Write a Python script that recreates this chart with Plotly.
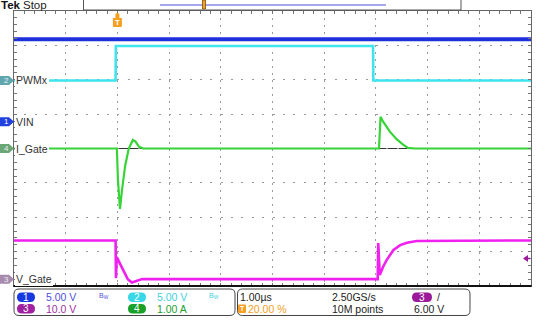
import plotly.graph_objects as go

# ---------------- data (read from the screen shot) ----------------
# time axis: 1.00 us/div, 10 div, trigger at 20 %
T_RANGE = [-2.0, 8.0]
# channels: name, scale (units/div), offset (div)
CH_NAMES = ["VIN", "PWMx", "V_Gate", "I_Gate"]
CH_NUM = ["1", "2", "3", "4"]
CH_SCALE = [5.0, 5.0, 10.0, 1.0]
CH_OFFSET = [0.78, 1.98, -3.80, 0.0]
CH_SCALE_TXT = ["5.00 V", "5.00 V", "10.0 V", "1.00 A"]

vin_t = [-2.0, 8.0]
vin_v = [12.0, 12.0]

pwm_t = [-2.0, -0.035, -0.03, 4.945, 4.95, 8.0]
pwm_v = [0.0, 0.0, 5.0, 5.0, 0.0, 0.0]

vgate_t = [-2.0, -0.035, -0.028, -0.012, 0.05, 0.13, 0.20, 0.28, 0.38, 0.48,
           5.035, 5.045, 5.075, 5.14, 5.21, 5.34, 5.47, 5.60, 5.79, 8.0]
vgate_v = [11.25, 11.25, 0.3, 6.4, 4.5, 2.2, 0.0, -1.0, -0.5, 0.0,
           0.0, 10.5, 1.2, 3.6, 5.6, 8.5, 9.9, 10.6, 11.1, 11.25]

igate_t = [-2.0, -0.01, 0.01, 0.05, 0.09, 0.15, 0.22, 0.27, 0.30, 0.35, 0.42, 0.50,
           5.06, 5.09, 5.14, 5.27, 5.40, 5.52, 5.62, 5.75, 8.0]
igate_v = [0.0, 0.0, -0.9, -1.76, -1.2, -0.5, 0.0, 0.18, 0.25, 0.2, 0.05, 0.0,
           0.0, 0.92, 0.78, 0.49, 0.27, 0.12, 0.02, 0.0, 0.0]

TIMEBASE = "1.00µs"
TRIG_POS = "20.00 %"
SAMPLE_RATE = "2.50GS/s"
RECORD = "10M points"
TRIG_LEVEL = 6.0
TRIG_LEVEL_TXT = "6.00 V"

# ---------------- styling ----------------
TRACE_COL = {"1": "#1e30dc", "2": "#3ee4ee", "3": "#f020f0", "4": "#36d436"}
PILL_COL = {"1": "#1838e0", "2": "#38d8e8", "3": "#a020a0", "4": "#18a028"}
TXT_COL = {"1": "#5050dc", "2": "#40d0e0", "3": "#a030a0", "4": "#20a030"}
SIDE_COL = {"1": "#2040e0", "2": "#5fa6ae", "3": "#a78aae", "4": "#6aa676"}
ORANGE = "#f5a020"
FONT = "Liberation Sans"
GRID = "#9a9a9a"
TICK = "#777777"

W, H = 551, 330
L, R, T, B = 14, 531, 11, 286
PW, PH = R - L, B - T


def px(x):
    return (x - L) / PW


def py(y):
    return (B - y) / PH


def rrect(x0, y0, x1, y1, r):
    def P(x, y):
        return f"{px(x):.5f},{py(y):.5f}"
    return " ".join([
        f"M {P(x0 + r, y0)}", f"L {P(x1 - r, y0)}", f"Q {P(x1, y0)} {P(x1, y0 + r)}",
        f"L {P(x1, y1 - r)}", f"Q {P(x1, y1)} {P(x1 - r, y1)}", f"L {P(x0 + r, y1)}",
        f"Q {P(x0, y1)} {P(x0, y1 - r)}", f"L {P(x0, y0 + r)}", f"Q {P(x0, y0)} {P(x0 + r, y0)} Z"])


fig = go.Figure()

axis_of = {"1": "y2", "2": "y3", "3": "y4", "4": "y5"}
series = [("1", vin_t, vin_v, 4), ("2", pwm_t, pwm_v, 2.6),
          ("4", igate_t, igate_v, 2.2), ("3", vgate_t, vgate_v, 2.6)]
for ch, t, v, w in series:
    fig.add_trace(go.Scatter(x=t, y=v, mode="lines", yaxis=axis_of[ch],
                             line=dict(color=TRACE_COL[ch], width=w),
                             showlegend=False, hoverinfo="skip"))

layout = dict(
    width=W, height=H, margin=dict(l=L, r=W - R, t=T, b=H - B),
    paper_bgcolor="white", plot_bgcolor="white", showlegend=False,
    xaxis=dict(range=T_RANGE, dtick=1, tick0=0, showgrid=True, gridcolor=GRID,
               griddash="2px,4.9px", gridwidth=1, zeroline=False,
               showticklabels=False, ticks="inside", ticklen=3, tickcolor=TICK,
               minor=dict(dtick=0.2, ticks="inside", ticklen=3, tickcolor=TICK, showgrid=False),
               showline=True, linecolor="#666", linewidth=1, mirror="allticks", fixedrange=True),
    yaxis=dict(range=[-4, 4], dtick=1, tick0=0, showgrid=True, gridcolor=GRID,
               griddash="2px,8.34px", gridwidth=1, zeroline=False,
               showticklabels=False, ticks="inside", ticklen=3, tickcolor=TICK,
               minor=dict(dtick=0.2, ticks="inside", ticklen=3, tickcolor=TICK, showgrid=False),
               showline=True, linecolor="#666", linewidth=1, mirror="allticks", fixedrange=True),
)
for i, ch in enumerate(CH_NUM):
    s, o = CH_SCALE[i], CH_OFFSET[i]
    layout["yaxis" + axis_of[ch][1:]] = dict(overlaying="y", visible=False, showgrid=False,
                                             range=[(-4 - o) * s, (4 - o) * s])
fig.update_layout(**layout)

shapes = []
ann = []


def text(x, y, s, size=10.5, color="#222", anchor="left", **kw):
    ann.append(dict(xref="paper", yref="paper", x=px(x), y=py(y), text=s, showarrow=False,
                    font=dict(family=FONT, size=size, color=color), xanchor=anchor,
                    yanchor="middle", borderpad=0, borderwidth=0, **kw))


# centre horizontal line and thick bottom border
shapes.append(dict(type="line", xref="paper", yref="y", x0=0, x1=1, y0=0, y1=0,
                   line=dict(color="#333", width=1), layer="between"))
shapes.append(dict(type="line", xref="paper", yref="paper", x0=-0.001, x1=1.001, y0=0, y1=0,
                   line=dict(color="#111", width=2)))

# channel markers on left
for i, ch in enumerate(CH_NUM):
    shapes.append(dict(type="path", xref="paper", xsizemode="pixel", xanchor=0,
                       yref=axis_of[ch], ysizemode="pixel", yanchor=0,
                       path="M -14,-4.5 L -5,-4.5 L 0,0 L -5,4.5 L -14,4.5 Z",
                       fillcolor=SIDE_COL[ch], line=dict(width=0)))
    ann.append(dict(xref="paper", x=0, xshift=-8, yref=axis_of[ch], y=0, text=ch,
                    showarrow=False, font=dict(family=FONT, size=8,
                    color="white" if ch == "1" else "#e8f0f0"), xanchor="center", yanchor="middle"))
    ann.append(dict(xref="paper", x=0, xshift=1, yref=axis_of[ch], y=0, text=CH_NAMES[i],
                    showarrow=False, font=dict(family=FONT, size=10.5, color="#333"),
                    xanchor="left", yanchor="middle", bgcolor="white", borderpad=1, borderwidth=0))

# trigger level arrow (ch3) on right edge
shapes.append(dict(type="path", xref="x", xsizemode="pixel", xanchor=T_RANGE[1],
                   yref=axis_of["3"], ysizemode="pixel", yanchor=TRIG_LEVEL,
                   path="M -8,0 L -3,3.5 L -3,-3.5 Z", fillcolor="#9a1a9a", line=dict(width=0)))
shapes.append(dict(type="path", xref="x", xsizemode="pixel", xanchor=T_RANGE[1],
                   yref=axis_of["3"], ysizemode="pixel", yanchor=TRIG_LEVEL,
                   path="M -4,0 L -1,0", line=dict(color="#9a1a9a", width=1.5)))

# trigger position marker (T) at top
shapes.append(dict(type="path", xref="x", xsizemode="pixel", xanchor=0,
                   yref="paper", ysizemode="pixel", yanchor=1,
                   path="M -4.5,-7 L 4.5,-7 L 4.5,-15 Q 4.5,-16 3.5,-16 L -3.5,-16 Q -4.5,-16 -4.5,-15 Z",
                   fillcolor=ORANGE, line=dict(width=0)))
shapes.append(dict(type="path", xref="x", xsizemode="pixel", xanchor=0,
                   yref="paper", ysizemode="pixel", yanchor=1,
                   path="M -2,-3 Q 0,-1 2,-3 L 2,-7 L -2,-7 Z",
                   fillcolor=ORANGE, line=dict(width=0)))
ann.append(dict(xref="x", x=0, yref="paper", y=1, yshift=-11.5, text="<b>T</b>", showarrow=False,
                font=dict(family=FONT, size=8, color="white"), xanchor="center", yanchor="middle"))

# header
text(0.5, 5.5, "<b>Tek</b>", size=11.5, color="#111")
text(23, 5.5, "Stop", size=11.5, color="#222")
shapes.append(dict(type="rect", xref="paper", yref="paper", x0=px(83.5), x1=px(461), y0=py(-2), y1=py(10),
                   fillcolor="white", line=dict(color="#555", width=1)))
shapes.append(dict(type="line", xref="paper", yref="paper", x0=px(160), x1=px(386), y0=py(5), y1=py(5),
                   line=dict(color="#8a8ae8", width=1.6)))
shapes.append(dict(type="rect", xref="paper", yref="paper", x0=px(202.5), x1=px(205.5), y0=py(0), y1=py(9),
                   fillcolor=ORANGE, line=dict(color="#7a5010", width=0.8)))

# bottom info panel
shapes.append(dict(type="path", xref="paper", yref="paper", path=rrect(14, 289, 235, 315.5, 5),
                   fillcolor="white", line=dict(color="#444", width=1)))
shapes.append(dict(type="path", xref="paper", yref="paper", path=rrect(237.5, 289, 470, 315.5, 5),
                   fillcolor="white", line=dict(color="#444", width=1)))

ROW1, ROW2 = 297.3, 308.8
pill_pos = {"1": (17, ROW1), "2": (128, ROW1), "3": (17, ROW2), "4": (128, ROW2)}
for i, ch in enumerate(CH_NUM):
    x0, yc = pill_pos[ch]
    shapes.append(dict(type="path", xref="paper", yref="paper",
                       path=rrect(x0, yc - 4.8, x0 + 18, yc + 4.8, 4.8),
                       fillcolor=PILL_COL[ch], line=dict(width=0)))
    text(x0 + 9, yc, ch, size=10, color="white", anchor="center")
    text(x0 + 29, yc, CH_SCALE_TXT[i], size=10.5, color=TXT_COL[ch])
for ch, xx in (("1", 99), ("2", 209)):
    text(xx, ROW1 - 1, "B<sub>W</sub>", size=7, color=TXT_COL[ch])

text(240, ROW1, TIMEBASE)
shapes.append(dict(type="path", xref="paper", yref="paper", path=rrect(238, ROW2 - 4.2, 246, ROW2 + 4.2, 1),
                   fillcolor=ORANGE, line=dict(width=0)))
text(242, ROW2, "<b>T</b>", size=7, color="white", anchor="center")
text(247.5, ROW2, TRIG_POS, color=ORANGE)
text(332, ROW1, SAMPLE_RATE)
text(332, ROW2, RECORD)
shapes.append(dict(type="path", xref="paper", yref="paper", path=rrect(412, ROW1 - 4.8, 432, ROW1 + 4.8, 4.8),
                   fillcolor="#9a1a9a", line=dict(width=0)))
text(422, ROW1, "3", size=10, color="white", anchor="center")
text(437, ROW1, "/")
text(414, ROW2, TRIG_LEVEL_TXT)

fig.update_layout(shapes=shapes, annotations=ann)
fig.write_html("out.html")
